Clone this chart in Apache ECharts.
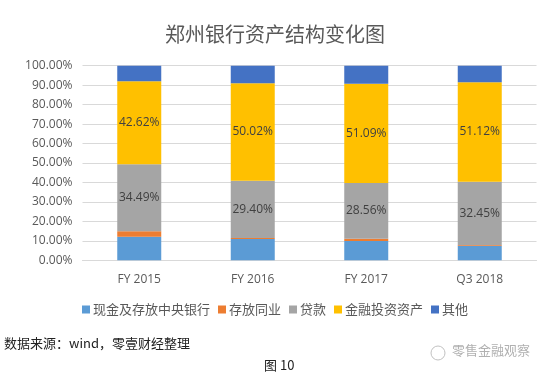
<!DOCTYPE html>
<html><head><meta charset="utf-8">
<script src="https://cdn.jsdelivr.net/npm/echarts@6/dist/echarts.min.js"></script>
<style>html,body{margin:0;padding:0;background:#fff}#c{width:550px;height:376px}</style>
</head><body><div id="c"></div>
<script>
const categories = ['FY 2015', 'FY 2016', 'FY 2017', 'Q3 2018'];
const cash = [12.1, 11.0, 9.9, 7.5];
const interbank = [2.8, 0.5, 1.2, 0.4];
const loans = [34.49, 29.40, 28.56, 32.45];
const finAssets = [42.62, 50.02, 51.09, 51.12];
const others = [7.99, 9.08, 9.25, 8.53];
const yTicks = [0, 10, 20, 30, 40, 50, 60, 70, 80, 90, 100];

const font = '"Noto Sans CJK SC", "Open Sans", sans-serif';
const chart = echarts.init(document.getElementById('c'));
function s(name, data, color, label) {
  return {
    name, type: 'bar', stack: 'a', data, barWidth: 44,
    itemStyle: { color },
    label: label ? { show: true, position: 'inside', color: '#404040', fontSize: 12, fontFamily: 'Open Sans',
      formatter: p => p.value.toFixed(2) + '%' } : { show: false }
  };
}
chart.setOption({
  animation: false,
  title: { text: '郑州银行资产结构变化图', left: 'center', top: 19,
    textStyle: { fontSize: 20, fontWeight: 'normal', color: '#595959', fontFamily: font } },
  grid: { left: 82.5, right: 13.5, top: 65.7, bottom: 115.7 },
  xAxis: { type: 'category', data: categories,
    axisLine: { lineStyle: { color: '#d9d9d9' } }, axisTick: { show: false },
    axisLabel: { color: '#595959', fontSize: 12, margin: 13, fontFamily: 'Open Sans' } },
  yAxis: { type: 'value', min: 0, max: 100, interval: 10,
    axisLine: { show: false }, axisTick: { show: false },
    splitLine: { lineStyle: { color: '#d9d9d9' } },
    axisLabel: { color: '#595959', fontSize: 12, margin: 10, fontFamily: 'Open Sans',
      formatter: v => yTicks.includes(v) ? v.toFixed(2) + '%' : '' } },
  legend: { bottom: 55, left: 'center', itemWidth: 8, itemHeight: 8, itemGap: 8,
    icon: 'rect',
    textStyle: { color: '#595959', fontSize: 13, fontFamily: font, padding: [0, 0, 0, -2] } },
  series: [
    s('现金及存放中央银行', cash, '#5B9BD5'),
    s('存放同业', interbank, '#ED7D31'),
    s('贷款', loans, '#A5A5A5', true),
    s('金融投资资产', finAssets, '#FFC000', true),
    s('其他', others, '#4472C4')
  ],
  graphic: [
    { type: 'text', left: 4, top: 337, style: { text: '数据来源：wind，零壹财经整理', fill: '#222', font: '13px ' + font } },
    { type: 'text', left: 264, top: 359, style: { text: '图 10', fill: '#222', font: '13px ' + font } },
    { type: 'text', left: 452, top: 344, style: { text: '零售金融观察', fill: '#b0b0b0', font: '13px ' + font } },
    { type: 'circle', shape: { cx: 438, cy: 353, r: 7 }, style: { fill: 'none', stroke: '#c0c0c0', lineWidth: 1 } }
  ]
});
</script></body></html>
